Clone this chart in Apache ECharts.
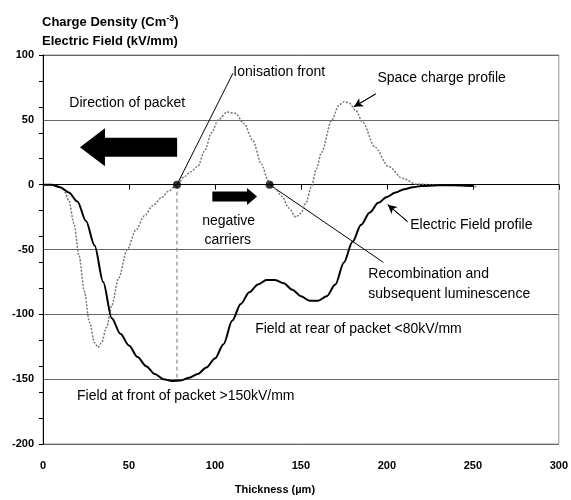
<!DOCTYPE html>
<html>
<head>
<meta charset="utf-8">
<script src="https://cdn.jsdelivr.net/npm/echarts@6/dist/echarts.min.js"></script>
<style>
  html, body { margin: 0; padding: 0; background: #fff; }
  #chart { width: 571px; height: 500px; }
</style>
</head>
<body>
<div id="chart"></div>
<script>
// thickness (um), value
let fieldProfile = [[0, 0], [5, 0], [10, -2], [15, -6], [20, -13], [25, -28], [30, -47], [35, -75], [40, -103],
    [45, -115], [50, -124], [55, -133], [60, -140], [65, -146], [70, -150], [75, -151.5], [80, -151], [85, -149],
    [90, -146], [95, -141], [100, -134], [105, -123], [110, -105], [115, -92], [120, -83], [125, -77], [130, -73.5],
    [135, -73.5], [140, -76], [145, -81], [150, -86], [155, -89.5], [160, -89.5], [165, -86], [170, -77], [175, -60],
    [180, -44], [185, -31], [190, -21.5], [195, -14], [200, -9.5], [205, -6], [210, -3.5], [215, -2], [220, -1],
    [230, -0.5], [240, -0.5], [250, -1]];
let chargeProfile = [[0, 0], [5, 0], [9, -1], [12, -4], [15, -12], [18, -30], [21, -55], [24, -82], [27, -106],
    [30, -122], [32, -125.5], [34, -122], [37, -110], [40, -93], [44, -72], [49, -50], [54, -35], [59, -24],
    [64, -16], [69, -10], [73, -5], [78, 0], [82, 6], [86, 10], [90, 14], [94, 26], [98, 40], [102, 50], [107, 56],
    [112, 55], [117, 47], [122, 34], [127, 16], [131, 3], [135, -3], [139, -9], [143, -18], [147, -25], [150, -22],
    [153, -14], [156, -2], [159, 12], [162, 25], [168, 50], [172, 61], [175, 64], [178, 63], [182, 57], [186, 48],
    [193, 29], [201, 14], [209, 5], [217, 0.5], [225, 0], [235, -0.5], [245, -1], [252, -1.5]];
let xTicks = [0, 50, 100, 150, 200, 250, 300];
let yTicks = [-200, -150, -100, -50, 0, 50, 100];

// annotations, in data units
let dots = [[77.9, 0], [131.8, 0]];
let frontDrop = [[77.9, 0], [77.9, -152]];
let ionLeader = [[77.9, 0], [110.5, 86]];
let recombLeader = [[131.8, 0], [198, -60]];
let chargeArrow = [[193.5, 70], [180.8, 60]];
let fieldArrow = [[212, -28.5], [200.5, -15.4]];
let packetArrow = [[78, 28.8], [21.5, 28.8]];
let carrierArrow = [[98.5, -9.2], [124.5, -9.2]];
let notes = [
    ['Ionisation front', [110.7, 87]],
    ['Direction of packet', [15.3, 63]],
    ['Space charge profile', [194.5, 82]],
    ['negative', [92.6, -28.5]],
    ['carriers', [93.9, -42.5]],
    ['Electric Field profile', [213.6, -31]],
    ['Recombination and', [189.2, -69]],
    ['subsequent luminescence', [189.2, -84.6]],
    ['Field at rear of packet <80kV/mm', [123.4, -111.5]],
    ['Field at front of packet >150kV/mm', [19.8, -163]]
];

let font = 'Liberation Sans, Arial, sans-serif';
let chart = echarts.init(document.getElementById('chart'));

function leader(pts, arrow) {
    return {
        type: 'line', data: pts, symbol: 'none', silent: true, z: 1,
        lineStyle: { color: '#000', width: 1 },
        markLine: arrow ? {
            silent: true, symbol: ['none', 'arrow'], symbolSize: [7, 9],
            label: { show: false }, lineStyle: { color: '#000', width: 1, type: 'solid' },
            data: [[{ coord: pts[0] }, { coord: pts[1] }]]
        } : undefined
    };
}

chart.setOption({
    animation: false,
    grid: { left: 43, right: 12, top: 55, bottom: 55, show: true, borderColor: '#999', borderWidth: 1 },
    xAxis: {
        type: 'value', min: 0, max: 300, interval: 50,
        name: 'Thickness (µm)', nameLocation: 'middle', nameGap: 40,
        nameTextStyle: { fontFamily: font, fontWeight: 'bold', fontSize: 11, color: '#000', padding: [0, 52, 0, 0] },
        axisLine: { lineStyle: { color: '#000', width: 1 } },
        axisTick: { show: true, length: 5, lineStyle: { color: '#000' } },
        axisLabel: { fontFamily: font, fontWeight: 'bold', fontSize: 11, color: '#000', margin: 16 },
        splitLine: { show: false }
    },
    yAxis: [{
        type: 'value', min: -200, max: 100, interval: 50,
        axisLine: { show: true, lineStyle: { color: '#000', width: 1 } },
        axisTick: { show: false },
        axisLabel: { fontFamily: font, fontWeight: 'bold', fontSize: 11, color: '#000', margin: 9 },
        splitLine: { show: true, lineStyle: { color: '#666', width: 1 } }
    }, {
        type: 'value', min: -200, max: 100, interval: 20, position: 'left',
        axisLine: { show: false }, axisLabel: { show: false }, splitLine: { show: false },
        axisTick: { show: true, length: 4, lineStyle: { color: '#000' } }
    }],
    series: [
        {
            type: 'line', data: chargeProfile, symbol: 'none', smooth: 0.3, smoothMonotone: 'x', z: 2,
            lineStyle: { color: '#777', width: 1.5, type: [2, 1.5] }
        },
        {
            type: 'line', data: fieldProfile, symbol: 'none', smooth: 0.3, smoothMonotone: 'x', z: 3,
            lineStyle: { color: '#000', width: 2 }
        },
        {
            type: 'line', data: frontDrop, symbol: 'none', z: 1,
            lineStyle: { color: '#777', width: 1, type: [4, 3] }
        },
        leader(ionLeader, false),
        leader(recombLeader, false),
        leader(chargeArrow, true),
        leader(fieldArrow, true),
        {
            type: 'scatter', data: dots, symbol: 'circle', symbolSize: 8, z: 5,
            itemStyle: { color: '#000' }
        }
    ]
});

function px(p) {
    return chart.convertToPixel({ gridIndex: 0 }, p);
}

function blockArrow(pair, shaft, head, headLen) {
    let a = px(pair[0]), b = px(pair[1]);
    let d = b[0] > a[0] ? 1 : -1, y = a[1], hx = b[0] - d * headLen;
    return {
        type: 'polygon', z: 10,
        shape: { points: [[a[0], y - shaft / 2], [hx, y - shaft / 2], [hx, y - head / 2], [b[0], y],
            [hx, y + head / 2], [hx, y + shaft / 2], [a[0], y + shaft / 2]] },
        style: { fill: '#000' }
    };
}

let graphics = [
    blockArrow(packetArrow, 19, 38, 25),
    blockArrow(carrierArrow, 10, 17, 10),
    {
        type: 'text', left: 42, top: 14, z: 10,
        style: {
            text: 'Charge Density (Cm{sup|-3})', fontFamily: font, fontWeight: 'bold', fontSize: 13, fill: '#000',
            rich: { sup: { fontFamily: font, fontWeight: 'bold', fontSize: 9, fill: '#000', padding: [0, 0, 7, 0] } }
        }
    },
    {
        type: 'text', left: 42, top: 35, z: 10,
        style: { text: 'Electric Field (kV/mm)', fontFamily: font, fontWeight: 'bold', fontSize: 13, fill: '#000' }
    }
];
notes.forEach(function (n) {
    let p = px(n[1]);
    graphics.push({
        type: 'text', x: p[0], y: p[1], z: 10,
        style: { text: n[0], fontFamily: font, fontSize: 14, fill: '#000', align: 'left', verticalAlign: 'middle' }
    });
});
chart.setOption({ graphic: graphics });
</script>
</body>
</html>
